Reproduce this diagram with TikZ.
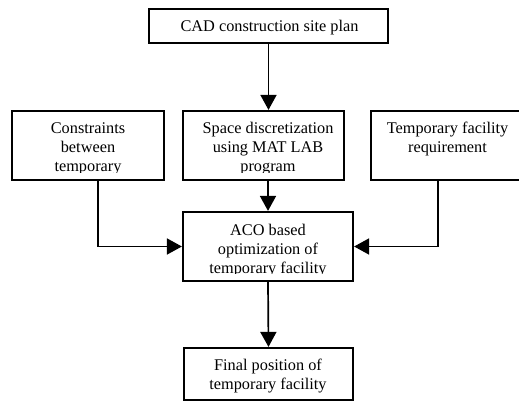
\documentclass[tikz,border=0pt]{standalone}
\usepackage{fontspec}
\setmainfont{Liberation Serif}
\usetikzlibrary{arrows.meta}
\begin{document}
\begin{tikzpicture}[x=1pt,y=-1pt,
  box/.style={draw, line width=2.2pt, inner sep=0pt},
  txt/.style={align=center, inner sep=0pt, font=\fontsize{16.3}{19}\selectfont},
  conn/.style={line width=1.7pt, -{Triangle[length=15pt,width=16pt]}}]
\useasboundingbox (0,0) rectangle (519,401);
% boxes
\node[box, minimum width=239pt, minimum height=34pt] (top) at (268.5,26) {};
\node[box, minimum width=152pt, minimum height=69pt] (left) at (88,145.5) {};
\node[box, minimum width=161pt, minimum height=69pt] (mid) at (263.5,145.5) {};
\node[box, minimum width=152pt, minimum height=69pt] (right) at (447,145.5) {};
\node[box, minimum width=170pt, minimum height=69pt] (aco) at (268,246.5) {};
\node[box, minimum width=169pt, minimum height=52pt] (final) at (268.5,374) {};
% texts
\node[txt] (ttop) at (269.5,27.5) {CAD construction site plan};
\begin{scope}
\clip (left.north west) rectangle ([yshift=9pt]left.south east);
\node[txt] (tleft) at (88,148.5) {Constraints\\between\\temporary};
\end{scope}
\begin{scope}
\clip (mid.north west) rectangle ([yshift=9pt]mid.south east);
\node[txt] (tmid) at (268,148.5) {Space discretization\\using MAT LAB\\program};
\end{scope}
\node[txt] (tright) at (447.5,139) {Temporary facility\\requirement};
\begin{scope}
\clip (aco.north west) rectangle ([yshift=9pt]aco.south east);
\node[txt] (taco) at (268,250.5) {ACO based\\optimization of\\temporary facility};
\end{scope}
\node[txt] (tfinal) at (268,376.5) {Final position of\\temporary facility};
% connectors
\draw[conn] (top.south) -- (top.south |- mid.north);
\draw[conn] ([xshift=4.5pt]mid.south) -- (aco.north);
\draw[conn] (aco.south) -- (final.north);
\draw[conn] ([xshift=10pt]left.south) |- (aco.west);
\draw[conn] ([xshift=-9pt]right.south) |- (aco.east);
\end{tikzpicture}
\end{document}
